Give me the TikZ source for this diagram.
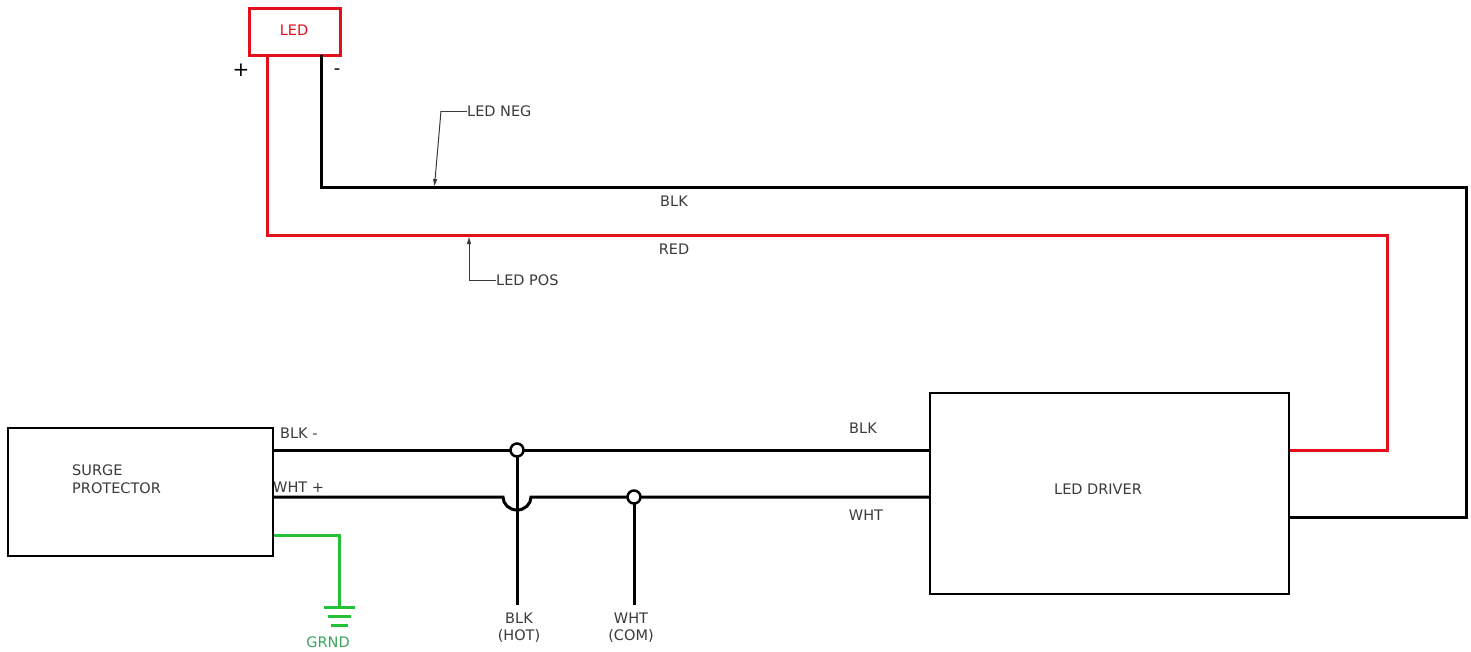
\documentclass[tikz,border=0pt]{standalone}
\usepackage{fontspec}
\setmainfont{DejaVu Sans}
\usetikzlibrary{arrows.meta}
\definecolor{wred}{HTML}{E3101C}
\definecolor{wgreen}{HTML}{22C136}
\definecolor{tgreen}{HTML}{3AA35A}
\definecolor{tgray}{HTML}{3A3A3A}
\tikzset{
  box/.style={draw=black, line width=2pt, inner sep=0pt, rectangle},
  wire/.style={line width=3pt, black},
  redwire/.style={line width=3pt, wred},
  gwire/.style={line width=3pt, wgreen},
  lbl/.style={font=\fontsize{14.5}{17}\selectfont, text=tgray, inner sep=0pt},
  leader/.style={line width=1pt, tgray},
  jdot/.style={circle, draw=black, line width=2.5pt, fill=white, minimum size=13pt, inner sep=0pt},
}
\begin{document}
\begin{tikzpicture}[x=1pt,y=-1pt]
\useasboundingbox (0,0) rectangle (1471,651);
% boxes
\node[box, draw=wred, line width=3pt, minimum width=91pt, minimum height=47pt] (led) at (294.5,31.5) {};
\node[lbl, text=wred] (ledt) at (294,30) {LED};
\node[box, minimum width=265pt, minimum height=128pt] (surge) at (140.5,492) {};
\node[lbl, align=left, font=\fontsize{14.5}{18}\selectfont, anchor=west] (surget) at (72,479) {SURGE\\PROTECTOR};
\node[box, minimum width=359pt, minimum height=201pt] (drv) at (1109.5,493.5) {};
\node[lbl] (drvt) at (1098,489) {LED DRIVER};
% polarity
\node[font=\fontsize{20}{20}\selectfont, inner sep=0pt] (plus) at (241,70) {+};
\node[font=\fontsize{18}{18}\selectfont, inner sep=0pt] (minus) at (337,72) {-};
% coordinates
\coordinate (rtop) at (267,55);
\coordinate (btop) at (321,55);
\coordinate (rc1) at (267,235);
\coordinate (rc2) at (1387,235);
\coordinate (rc3) at (1387,450);
\coordinate (bc1) at (321,187);
\coordinate (bc2) at (1466,187);
\coordinate (bc3) at (1466,517);
% LED wires
\draw[redwire] (rtop) -- (rc1) -- (rc2) -- (rc3) -- (drv.east |- rc3);
\draw[wire] (btop) -- (bc1) -- (bc2) -- (bc3) -- (drv.east |- bc3);
\node[lbl] (blk1) at (674,201) {BLK};
\node[lbl] (red1) at (674,249) {RED};
% leaders
\node[lbl, anchor=west] (neg) at (467,111) {LED NEG};
\coordinate (negk) at (441,111);
\coordinate (negt) at (434.5,186);
\draw[leader] (neg.west) -- (negk);
\draw[leader, -{Triangle[length=7pt,width=4pt]}] (negk) -- (negt);
\node[lbl, anchor=west] (pos) at (496,280) {LED POS};
\coordinate (posk) at (469,280);
\coordinate (post) at (469,237);
\draw[leader] (pos.west) -- (posk);
\draw[leader, -{Triangle[length=7pt,width=4pt]}] (posk) -- (post);
% mains wires
\coordinate (bs) at (surge.east |- 0,450);
\coordinate (ws) at (surge.east |- 0,497);
\coordinate (j1) at (517,450);
\coordinate (j2) at (634,497);
\coordinate (hopL) at (503,497);
\draw[wire] (bs) -- (drv.west |- bs);
\draw[wire] (ws) -- (hopL) arc[start angle=180, end angle=360, x radius=14pt, y radius=13pt] -- (drv.west |- ws);
\coordinate (j1b) at (517,605);
\coordinate (j2b) at (634,605);
\draw[wire] (j1) -- (j1b);
\draw[wire] (j2) -- (j2b);
\node[jdot] (d1) at (j1) {};
\node[jdot] (d2) at (j2) {};
\node[lbl, anchor=west] (blkm) at (280,433) {BLK -};
\node[lbl, anchor=west] (whtp) at (273,487) {WHT +};
\node[lbl] (blk2) at (863,428) {BLK};
\node[lbl] (wht2) at (866,515) {WHT};
\node[lbl, align=center] (hot) at (519,628) {BLK\\(HOT)};
\node[lbl, align=center] (com) at (631,628) {WHT\\(COM)};
% ground
\coordinate (g0) at (surge.east |- 0,535);
\coordinate (g1) at (339,535);
\coordinate (g2) at (339,607);
\draw[gwire] (g0) -- (g1) -- (g2);
\draw[gwire] (324,607) -- (355,607);
\draw[gwire] (328,616) -- (351,616);
\draw[gwire] (331,625) -- (348,625);
\node[lbl, text=tgreen] (grnd) at (328,642) {GRND};
\end{tikzpicture}
\end{document}
